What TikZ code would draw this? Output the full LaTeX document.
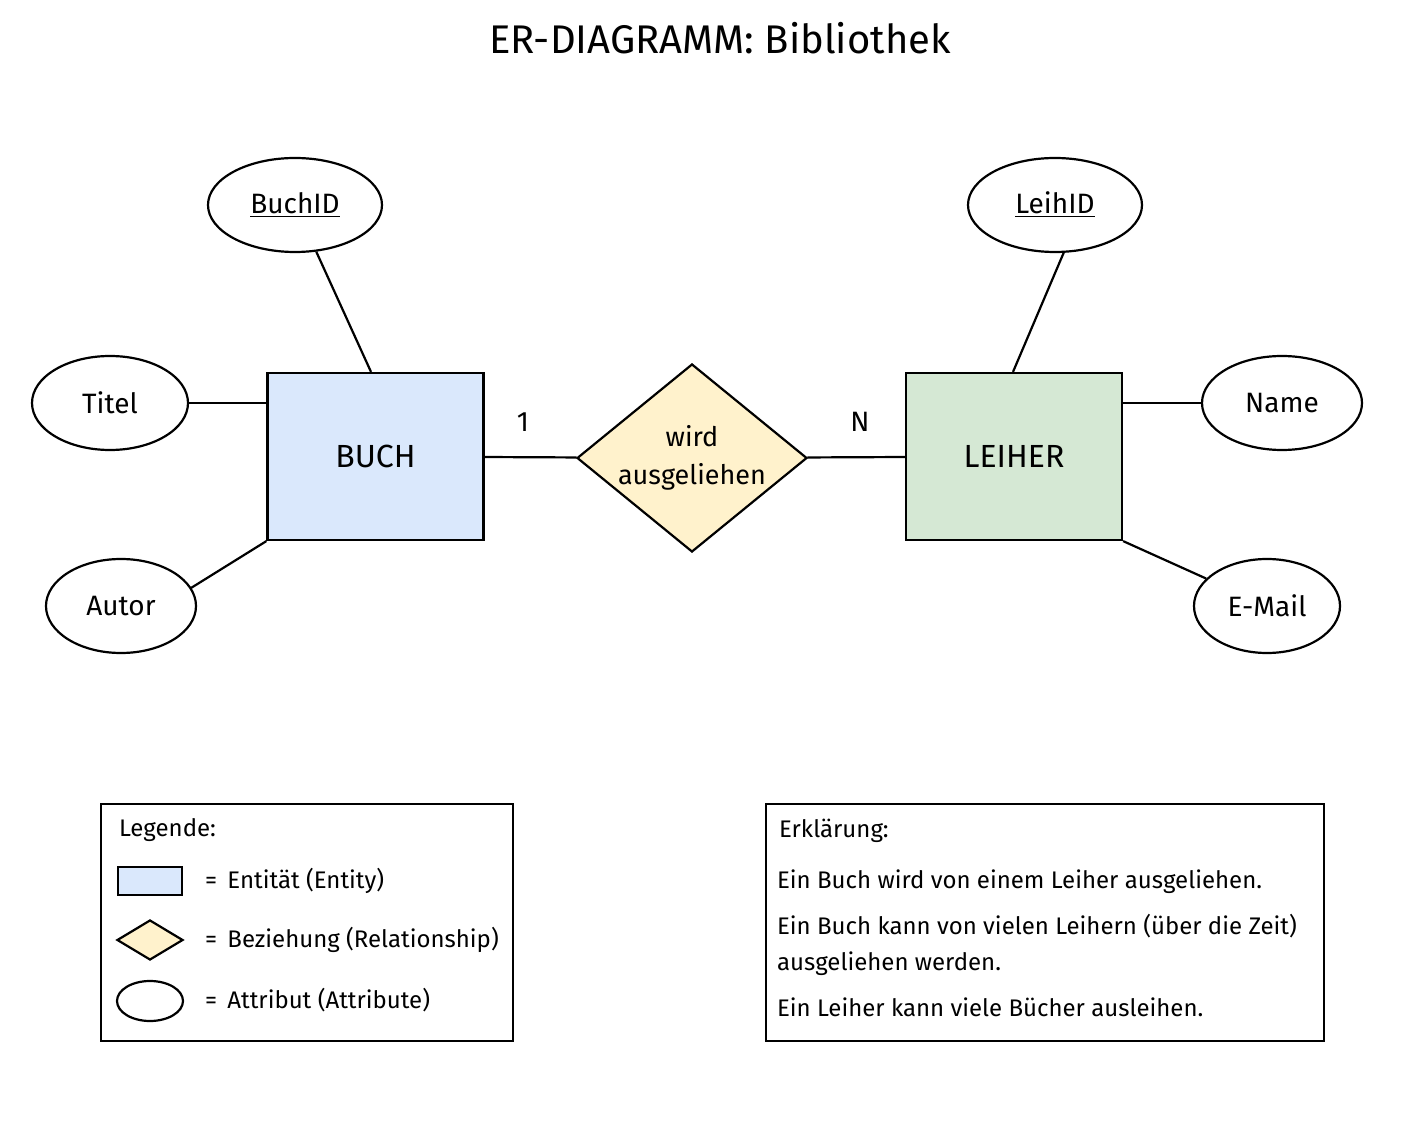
\documentclass[tikz,border=0pt]{standalone}
\usepackage{fontspec}
\setmainfont{Fira Sans}
\usetikzlibrary{shapes.geometric}
\definecolor{eblue}{HTML}{DAE8FC}
\definecolor{egreen}{HTML}{D5E8D4}
\definecolor{dyel}{HTML}{FFF2CC}
\begin{document}
\begin{tikzpicture}[x=0.5pt,y=-0.5pt,
 ln/.style={line width=1.1pt},
 attr/.style={ellipse,draw,ln,fill=white,inner sep=0pt,font=\fontsize{14}{16}\selectfont},
 ent/.style={rectangle,draw,ln,minimum width=108pt,minimum height=83.5pt,font=\fontsize{16}{18}\selectfont},
 rel/.style={diamond,draw,ln,fill=dyel,minimum width=115pt,minimum height=94pt,aspect=1.22,inner sep=0pt,align=center,font=\fontsize{13.5}{19}\selectfont},
 leg/.style={font=\fontsize{12}{14}\selectfont,anchor=west}]
\useasboundingbox (0,0) rectangle (1402,1122);
\node[font=\fontsize{20}{24}\selectfont] (title) at (720,38) {ER-DIAGRAMM: Bibliothek};
\node[ent,fill=eblue] (buch) at (375.5,456.5) {BUCH};
\node[ent,fill=egreen] (leiher) at (1014,456.5) {LEIHER};
\node[rel] (rel) at (692,458) {wird\\ausgeliehen};
\node[attr,minimum width=87pt,minimum height=47pt] (buchid) at (295,205) {\underline{BuchID}};
\node[attr,minimum width=78pt,minimum height=47pt] (titel) at (110,403) {Titel};
\node[attr,minimum width=75pt,minimum height=47pt] (autor) at (121,606) {Autor};
\node[attr,minimum width=87pt,minimum height=47pt] (leihid) at (1055,205) {\underline{LeihID}};
\node[attr,minimum width=80pt,minimum height=47pt] (name) at (1282,403) {Name};
\node[attr,minimum width=73pt,minimum height=47pt] (email) at (1267,606) {E-Mail};
\coordinate (lid) at (1064,252);
\coordinate (aut) at (191,588);
\draw[ln] (buchid) -- (buch.north west -| 371,0);
\draw[ln] (titel) -- (titel -| buch.west);
\draw[ln] (aut) -- (buch.south west);
\draw[ln] (buch) -- (rel);
\draw[ln] (rel) -- (leiher);
\draw[ln] (lid) -- (leiher.north -| 1013,0);
\draw[ln] (name) -- (name -| leiher.east);
\draw[ln] (email) -- (leiher.south east);
\node[font=\fontsize{14}{16}\selectfont] (one) at (523,422) {1};
\node[font=\fontsize{14}{16}\selectfont] (n) at (860,422) {N};
% legend
\node[draw,ln,minimum width=206pt,minimum height=118.5pt] (legbox) at (307,922.5) {};
\node[leg] (lt) at (112,830) {Legende:};
\node[draw,ln,fill=eblue,minimum width=32pt,minimum height=14pt,inner sep=0pt] (l1) at (150,881) {};
\node[leg] (l1t) at (198,881) {= \,Entität (Entity)};
\node[diamond,draw,ln,fill=dyel,minimum width=33pt,minimum height=20pt,inner sep=0pt,aspect=1.6] (l2) at (150,940) {};
\node[leg] (l2t) at (198,940) {= \,Beziehung (Relationship)};
\node[ellipse,draw,ln,minimum width=33pt,minimum height=20pt,inner sep=0pt] (l3) at (150,1001) {};
\node[leg] (l3t) at (198,1000) {= \,Attribut (Attribute)};
% explanation
\node[draw,ln,minimum width=279pt,minimum height=118.5pt] (expbox) at (1045,922.5) {};
\node[leg] (et) at (772,831) {Erklärung:};
\node[leg] (e1) at (770,882) {Ein Buch wird von einem Leiher ausgeliehen.};
\node[leg,align=left,font=\fontsize{12}{18}\selectfont] (e2) at (770,945) {Ein Buch kann von vielen Leihern (über die Zeit)\\ausgeliehen werden.};
\node[leg] (e3) at (770,1007) {Ein Leiher kann viele Bücher ausleihen.};
\end{tikzpicture}
\end{document}
